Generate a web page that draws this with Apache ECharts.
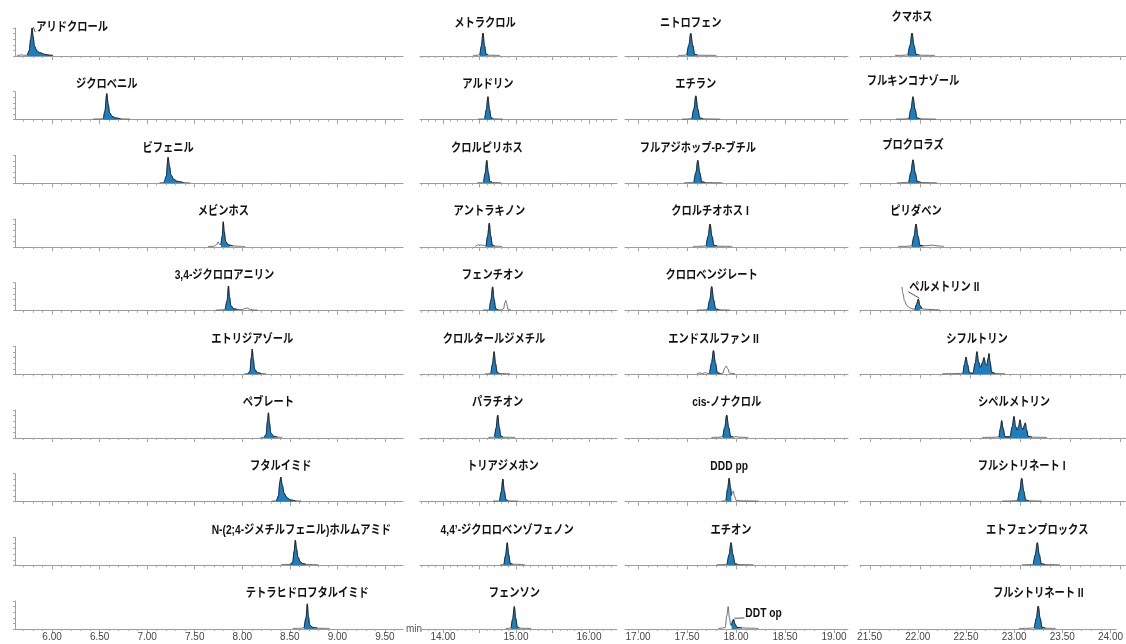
<!DOCTYPE html>
<html>
<head>
<meta charset="utf-8">
<script src="https://cdn.jsdelivr.net/npm/echarts@6/dist/echarts.min.js"></script>
<style>
  html, body { margin: 0; padding: 0; background: #fff; }
  #chart { width: 1126px; height: 644px; }
</style>
</head>
<body>
<div id="chart"></div>
<script>
// ---- Data -------------------------------------------------------------

// Retention-time window (min) of each column
const columnRanges = [[5.61, 9.69], [13.685, 16.384], [16.867, 19.143], [21.40, 24.06]];

// Labelled ticks on the bottom time axis of each column
const tickLabelsCol1 = [6.0, 6.5, 7.0, 7.5, 8.0, 8.5, 9.0, 9.5];
const tickLabelsCol2 = [14.0, 15.0, 16.0];
const tickLabelsCol3 = [17.0, 17.5, 18.0, 18.5, 19.0];
const tickLabelsCol4 = [21.5, 22.0, 22.5, 23.0, 23.5, 24.0];

// Compound names, top to bottom
const compoundsCol1 = ['アリドクロール', 'ジクロベニル', 'ビフェニル', 'メビンホス', '3,4-ジクロロアニリン',
  'エトリジアゾール', 'ペブレート', 'フタルイミド', 'N-(2;4-ジメチルフェニル)ホルムアミド', 'テトラヒドロフタルイミド'];
const compoundsCol2 = ['メトラクロル', 'アルドリン', 'クロルピリホス', 'アントラキノン', 'フェンチオン',
  'クロルタールジメチル', 'パラチオン', 'トリアジメホン', '4,4’-ジクロロベンゾフェノン', 'フェンソン'];
const compoundsCol3 = ['ニトロフェン', 'エチラン', 'フルアジホップ-P-ブチル', 'クロルチオホス I', 'クロロベンジレート',
  'エンドスルファン II', 'cis-ノナクロル', 'DDD pp', 'エチオン', 'DDT op'];
const compoundsCol4 = ['クマホス', 'フルキンコナゾール', 'プロクロラズ', 'ピリダベン', 'ペルメトリン II',
  'シフルトリン', 'シペルメトリン', 'フルシトリネート I', 'エトフェンプロックス', 'フルシトリネート II'];

// Chromatogram traces: [retention time (min), relative intensity]
const tracesCol1 = [
  [[5.63,2],[5.66,3],[5.68,4],[5.70,2.5],[5.74,3],[5.76,20],[5.775,60],[5.79,100],[5.80,70],[5.815,35],[5.84,18],[5.87,12],[5.92,6],[5.97,3],[6.01,2]],
  [[6.43,2],[6.50,2.5],[6.54,4],[6.555,30],[6.575,93],[6.59,55],[6.605,25],[6.63,12],[6.67,6],[6.72,3],[6.82,2]],
  [[7.13,2],[7.18,3],[7.20,25],[7.22,93],[7.235,60],[7.25,30],[7.28,14],[7.32,7],[7.38,3],[7.45,2]],
  [[7.64,2],[7.70,2.5],[7.73,8],[7.745,18],[7.76,10],[7.775,8],[7.79,40],[7.80,90],[7.81,55],[7.825,20],[7.85,8],[7.90,4],[7.96,2.5],[8.03,2]],
  [[7.72,2],[7.78,2.5],[7.82,5],[7.84,35],[7.855,88],[7.865,50],[7.88,18],[7.91,7],[7.95,4],[8.00,4],[8.03,8],[8.05,10],[8.07,6],[8.11,2.5],[8.16,2]],
  [[8.02,2],[8.06,2.5],[8.08,10],[8.095,60],[8.105,90],[8.115,55],[8.13,18],[8.16,6],[8.20,3],[8.25,2]],
  [[8.19,2],[8.23,2.5],[8.25,12],[8.265,60],[8.275,90],[8.285,55],[8.30,18],[8.33,6],[8.37,3],[8.42,2]],
  [[8.31,2],[8.36,3],[8.38,20],[8.395,70],[8.405,88],[8.42,60],[8.44,30],[8.47,14],[8.51,6],[8.56,3],[8.62,2]],
  [[8.41,3],[8.46,3.5],[8.50,3],[8.53,10],[8.545,50],[8.558,90],[8.57,60],[8.585,30],[8.61,13],[8.64,6],[8.67,3.5],[8.73,3],[8.80,2]],
  [[8.53,2],[8.60,2.5],[8.65,4],[8.67,40],[8.684,90],[8.695,45],[8.71,14],[8.74,6],[8.79,3],[8.85,2.5],[8.92,2]]
];
const tracesCol2 = [
  [[14.41,2],[14.47,2.5],[14.505,4],[14.525,35],[14.548,82],[14.568,38],[14.59,7],[14.62,3],[14.70,2.5],[14.78,2]],
  [[14.48,2],[14.54,2.5],[14.572,4],[14.593,35],[14.616,82],[14.636,38],[14.658,7],[14.69,3],[14.76,2.5],[14.82,2]],
  [[14.47,2],[14.53,2.5],[14.556,4],[14.577,35],[14.60,82],[14.62,38],[14.642,7],[14.675,3],[14.74,2.5],[14.80,2]],
  [[14.44,2],[14.47,6],[14.49,10],[14.505,4],[14.52,9],[14.54,5],[14.56,7],[14.575,3],[14.59,4],[14.611,38],[14.634,85],[14.654,40],[14.676,7],[14.71,3],[14.76,2.5],[14.81,2]],
  [[14.55,2],[14.61,2.5],[14.636,4],[14.657,38],[14.68,85],[14.70,40],[14.722,7],[14.755,3],[14.80,3],[14.83,7],[14.848,28],[14.86,36],[14.873,25],[14.89,5],[14.93,2]],
  [[14.575,2],[14.63,2.5],[14.656,4],[14.677,35],[14.70,81],[14.72,38],[14.742,7],[14.775,3],[14.85,2.5],[14.92,2]],
  [[14.62,2],[14.68,2.5],[14.706,4],[14.727,35],[14.75,82],[14.77,38],[14.792,7],[14.825,3],[14.90,2.5],[14.99,2]],
  [[14.685,2],[14.75,2.5],[14.776,4],[14.797,35],[14.82,81],[14.84,38],[14.862,7],[14.895,3],[14.96,2.5],[15.03,2]],
  [[14.78,2],[14.81,2.5],[14.836,4],[14.857,35],[14.88,81],[14.90,38],[14.922,7],[14.955,4],[15.01,4],[15.06,3],[15.12,2]],
  [[14.86,2],[14.91,2.5],[14.933,4],[14.954,35],[14.977,80],[14.997,38],[15.019,7],[15.05,3],[15.13,2.5],[15.21,2]]
];
const tracesCol3 = [
  [[17.41,2],[17.47,2.5],[17.498,4],[17.518,38],[17.538,81],[17.558,38],[17.578,6],[17.61,3],[17.70,2.5],[17.80,2]],
  [[17.45,2],[17.51,2.5],[17.55,4],[17.57,38],[17.59,85],[17.61,38],[17.63,6],[17.665,3],[17.75,2.5],[17.84,2]],
  [[17.47,2],[17.53,2.5],[17.57,4],[17.59,38],[17.61,82],[17.63,38],[17.65,6],[17.685,3],[17.77,2.5],[17.86,2]],
  [[17.56,2],[17.63,2.5],[17.695,4],[17.715,38],[17.735,82],[17.755,38],[17.775,6],[17.81,3],[17.88,2.5],[17.96,2]],
  [[17.60,2],[17.66,2.5],[17.712,4],[17.732,38],[17.752,86],[17.772,38],[17.792,6],[17.83,3],[17.88,2.5],[17.94,2]],
  [[17.60,2],[17.63,5],[17.66,3],[17.69,6],[17.715,3],[17.73,4],[17.75,40],[17.77,85],[17.79,40],[17.81,6],[17.84,3],[17.865,4],[17.885,22],[17.90,30],[17.915,20],[17.935,4],[17.99,2]],
  [[17.75,2],[17.81,2.5],[17.865,4],[17.885,38],[17.905,82],[17.925,38],[17.945,6],[17.975,3],[18.00,5],[18.03,3],[18.125,2]],
  [[17.85,2],[17.88,3],[17.898,6],[17.914,45],[17.93,84],[17.944,50],[17.953,22],[17.962,30],[17.972,38],[17.985,20],[18.00,5],[18.05,3],[18.23,2]],
  [[17.80,2],[17.86,2.5],[17.909,4],[17.929,38],[17.949,81],[17.969,38],[17.989,6],[18.02,3],[18.10,2.5],[18.18,2]],
  [[17.82,2],[17.86,3],[17.89,6],[17.905,45],[17.92,80],[17.933,40],[17.946,14],[17.955,12],[17.964,28],[17.975,35],[17.99,18],[18.01,6],[18.06,4],[18.15,3],[18.23,2]]
];
const tracesCol4 = [
  [[21.75,2],[21.83,2.5],[21.88,4],[21.90,38],[21.92,82],[21.94,38],[21.96,6],[21.995,3],[22.07,2.5],[22.15,2]],
  [[21.76,2],[21.84,2.5],[21.89,4],[21.91,38],[21.93,82],[21.95,38],[21.97,6],[22.005,3],[22.08,2.5],[22.16,2]],
  [[21.77,2],[21.84,2.5],[21.888,4],[21.908,38],[21.93,84],[21.952,38],[21.972,7],[22.01,3],[22.09,2.5],[22.17,2]],
  [[21.78,2],[21.86,2.5],[21.92,4],[21.94,38],[21.96,82],[21.98,38],[22.00,6],[22.035,4],[22.08,5],[22.12,7],[22.17,4],[22.24,2]],
  [[21.82,85],[21.83,60],[21.845,35],[21.87,18],[21.90,10],[21.93,6],[21.95,5],[21.965,22],[21.983,41],[22.0,18],[22.02,7],[22.06,5],[22.12,4],[22.20,2]],
  [[22.22,2],[22.35,2.5],[22.43,4],[22.445,35],[22.46,62],[22.475,35],[22.495,5],[22.53,4],[22.552,40],[22.57,81],[22.585,45],[22.605,25],[22.625,42],[22.64,60],[22.655,36],[22.668,32],[22.68,55],[22.69,74],[22.70,45],[22.717,8],[22.75,3],[22.85,2]],
  [[22.62,2],[22.72,2.5],[22.79,4],[22.805,35],[22.817,62],[22.83,35],[22.85,5],[22.90,4],[22.922,40],[22.94,77],[22.955,42],[22.972,28],[22.987,42],[23.00,65],[23.015,38],[23.03,30],[23.043,45],[23.053,54],[23.065,30],[23.082,6],[23.12,3],[23.27,2]],
  [[22.82,2],[22.90,2.5],[22.977,4],[22.997,38],[23.017,84],[23.037,38],[23.057,6],[23.09,3],[23.16,2.5],[23.22,2]],
  [[23.02,2],[23.09,2.5],[23.133,4],[23.153,38],[23.173,81],[23.193,38],[23.213,6],[23.25,3],[23.33,2.5],[23.40,2]],
  [[23.05,2],[23.13,2.5],[23.21,4],[23.23,38],[23.25,82],[23.27,38],[23.29,6],[23.325,3],[23.38,2.5],[23.43,2]]
];

// Integrated (shaded) retention-time window of each target peak
const windowsCol1 = [[5.74,6.01],[6.54,6.72],[7.18,7.38],[7.775,7.90],[7.82,7.95],[8.06,8.20],[8.23,8.37],[8.36,8.56],[8.50,8.67],[8.65,8.79]];
const windowsCol2 = [[14.505,14.62],[14.572,14.69],[14.556,14.675],[14.59,14.71],[14.636,14.755],[14.656,14.775],[14.706,14.825],[14.776,14.895],[14.836,14.955],[14.933,15.05]];
const windowsCol3 = [[17.498,17.61],[17.55,17.665],[17.57,17.685],[17.695,17.81],[17.712,17.83],[17.73,17.84],[17.865,17.975],[17.898,17.953],[17.909,18.02],[17.955,18.06]];
const windowsCol4 = [[21.88,21.995],[21.89,22.005],[21.888,22.01],[21.92,22.035],[21.95,22.02],[22.43,22.75],[22.79,23.12],[22.977,23.09],[23.133,23.25],[23.21,23.325]];

// ---- Layout & style ---------------------------------------------------

const colLeft = [15, 420, 625, 860];
const colWidth = [388, 197, 223, 266];
const firstAxisY = 56;      // baseline of the top row
const rowPitch = 63.67;
const plotHeight = 28;
const fillColor = '#1c7fc2';
const nameFontSize = 12.5;
const nameFont = "bold " + nameFontSize + "px 'Liberation Sans','Noto Sans CJK JP',sans-serif";
const nameSqueeze = 0.82;   // condensed look of the compound names
const axisFont = "'Liberation Sans',Arial,sans-serif";

// pixel nudges for names that sit beside their peak
const labelShift = {
  'アリドクロール': [40, 7],
  '3,4-ジクロロアニリン': [-4, 0],
  'N-(2;4-ジメチルフェニル)ホルムアミド': [6, 0],
  'ペルメトリン II': [26, 12],
  'DDT op': [30, 20],
  'クマホス': [0, -3],
  'フルキンコナゾール': [0, -3],
  'プロクロラズ': [0, -3],
  'ニトロフェン': [0, 3],
  'メトラクロル': [2, 3]
};
// names joined to their peak by a short leader line
const leaderNames = ['アリドクロール', 'ペルメトリン II', 'DDT op'];

const columns = [
  { names: compoundsCol1, traces: tracesCol1, windows: windowsCol1, labels: tickLabelsCol1 },
  { names: compoundsCol2, traces: tracesCol2, windows: windowsCol2, labels: tickLabelsCol2 },
  { names: compoundsCol3, traces: tracesCol3, windows: windowsCol3, labels: tickLabelsCol3 },
  { names: compoundsCol4, traces: tracesCol4, windows: windowsCol4, labels: tickLabelsCol4 }
];

function ticksBetween(min, max, step) {
  const out = [];
  const k0 = Math.ceil(min / step - 1e-9), k1 = Math.floor(max / step + 1e-9);
  for (let k = k0; k <= k1; k++) out.push(Math.round(k * step * 100) / 100);
  return out;
}

const grid = [], xAxis = [], yAxis = [], series = [], nameSpecs = [];

columns.forEach((col, c) => {
  const [min, max] = columnRanges[c];
  const majors = ticksBetween(min, max, 0.5);
  const minors = ticksBetween(min, max, 0.1);
  col.traces.forEach((trace, r) => {
    const g = grid.length;
    const baseY = firstAxisY + r * rowPitch;
    grid.push({ left: colLeft[c], top: baseY - plotHeight, width: colWidth[c], height: plotHeight, containLabel: false });
    const bottom = r === col.traces.length - 1;

    xAxis.push({
      type: 'value', gridIndex: g, min, max, position: 'bottom',
      axisLine: { show: true, lineStyle: { color: '#9c9c9c', width: 1 } },
      axisTick: { show: true, customValues: majors, length: 4, lineStyle: { color: '#9c9c9c' } },
      axisLabel: {
        show: bottom, customValues: col.labels, formatter: v => v.toFixed(2),
        fontSize: 10, color: '#444', margin: 3, fontFamily: axisFont
      },
      splitLine: { show: false },
      name: (bottom && c === 0) ? 'min' : '',
      nameLocation: 'end', nameGap: 3,
      nameTextStyle: { fontSize: 10, color: '#555', fontFamily: axisFont }
    });
    xAxis.push({
      type: 'value', gridIndex: g, min, max, position: 'bottom',
      axisLine: { show: false },
      axisTick: { show: true, customValues: minors, length: 2, lineStyle: { color: '#a8a8a8' } },
      axisLabel: { show: false },
      splitLine: { show: false }
    });
    yAxis.push({
      type: 'value', gridIndex: g, min: 0, max: 100, interval: 20,
      show: c === 0,
      axisLine: { show: true, lineStyle: { color: '#a0a0a0', width: 1 } },
      axisTick: { show: true, length: 2, lineStyle: { color: '#a8a8a8' } },
      axisLabel: { show: false },
      splitLine: { show: false }
    });

    const [w0, w1] = col.windows[r];
    const peak = trace.filter(p => p[0] >= w0 - 1e-9 && p[0] <= w1 + 1e-9);
    const top = peak.reduce((a, b) => (b[1] > a[1] ? b : a));

    series.push({
      type: 'line', xAxisIndex: 2 * g, yAxisIndex: g, data: trace,
      showSymbol: false, smooth: 0.35, smoothMonotone: 'x', silent: true, z: 2,
      lineStyle: { color: '#4a4a4a', width: 0.8 }
    });
    series.push({
      type: 'line', xAxisIndex: 2 * g, yAxisIndex: g, data: peak,
      showSymbol: false, smooth: 0.35, smoothMonotone: 'x', silent: true, z: 3,
      lineStyle: { color: '#151515', width: 0.8 },
      areaStyle: { color: fillColor, opacity: 1 }
    });
    nameSpecs.push({ name: col.names[r], seriesIndex: series.length - 1, top });
  });
});

const chart = echarts.init(document.getElementById('chart'), null, { renderer: 'canvas' });
chart.setOption({ animation: false, backgroundColor: '#fff', grid, xAxis, yAxis, series });

// Compound names above their peaks (condensed bold text)
const measure = document.createElement('canvas').getContext('2d');
measure.font = nameFont;
const graphic = [];
nameSpecs.forEach(s => {
  const shift = labelShift[s.name] || [0, 0];
  const anchor = chart.convertToPixel({ seriesIndex: s.seriesIndex }, [s.top[0], 100]);
  const apex = chart.convertToPixel({ seriesIndex: s.seriesIndex }, s.top);
  const cx = anchor[0] + shift[0];
  const cy = anchor[1] - 7 + shift[1];
  graphic.push({
    type: 'text', x: cx, y: cy, scaleX: nameSqueeze, silent: true, z: 10,
    style: { text: s.name, font: nameFont, fill: '#111', align: 'center', verticalAlign: 'middle' }
  });
  if (leaderNames.includes(s.name)) {
    const half = measure.measureText(s.name).width * nameSqueeze / 2;
    graphic.push({
      type: 'line', silent: true, z: 10,
      shape: { x1: apex[0] + 1, y1: apex[1] - 1, x2: cx - half - 1, y2: cy + 4 },
      style: { stroke: '#222', lineWidth: 0.8 }
    });
  }
});
chart.setOption({ graphic });
</script>
</body>
</html>
